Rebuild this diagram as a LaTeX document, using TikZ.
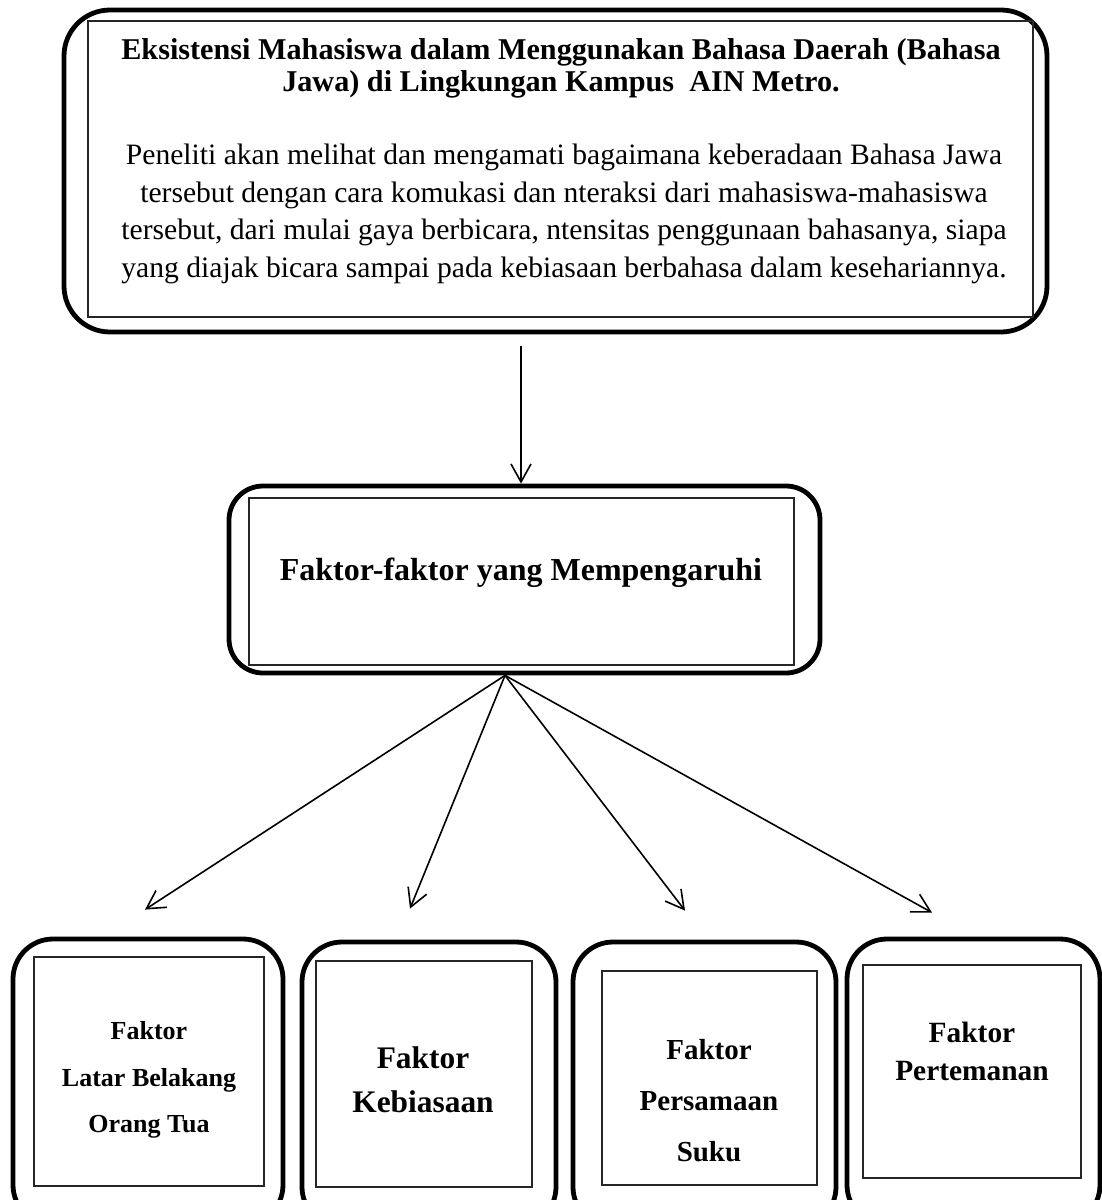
\documentclass[tikz,border=0pt]{standalone}
\usepackage{fontspec}
\setmainfont{Liberation Serif}
\usetikzlibrary{arrows.meta,calc}
\tikzset{
    luar/.style={draw, line width=2.4pt, rounded corners=20pt, inner sep=0pt},
    dalam/.style={draw=black!85, line width=0.7pt, inner sep=0pt},
    teks/.style={inner sep=0pt, align=center},
    panah/.style={-{Straight Barb[length=9pt,width=10pt]}, line width=0.8pt},
}
\begin{document}
\begin{tikzpicture}[x=0.5pt, y=-0.5pt]
        \useasboundingbox ( 0, 0 ) rectangle ( 1102, 1200 );

        % kotak atas
        \node[luar, rounded corners=23pt, minimum width=491.5pt, minimum height=161pt] (eksistensi) at ( 555.5, 171 ) {};
        \node[dalam, minimum width=472.5pt, minimum height=148pt] (eksistensidalam) at ( 560.5, 169 ) {};
        \node[teks, font=\bfseries\fontsize{15.1}{16}\selectfont] (judul) at ( 561, 68.5 )
            {Eksistensi Mahasiswa dalam Menggunakan Bahasa Daerah (Bahasa\\Jawa) di Lingkungan Kampus~ AIN Metro.};
        \node[teks, font=\fontsize{14.8}{18.9}\selectfont] (uraian) at ( 564, 214 )
            {Peneliti akan melihat dan mengamati bagaimana keberadaan Bahasa Jawa\\
             tersebut dengan cara komukasi dan nteraksi dari mahasiswa-mahasiswa\\
             tersebut, dari mulai gaya berbicara, ntensitas penggunaan bahasanya, siapa\\
             yang diajak bicara sampai pada kebiasaan berbahasa dalam kesehariannya.};

        % kotak tengah
        \node[luar, rounded corners=17pt, minimum width=295.5pt, minimum height=93.5pt] (pengaruh) at ( 524.5, 579.5 ) {};
        \node[dalam, minimum width=272.5pt, minimum height=83.5pt] (pengaruhdalam) at ( 521.5, 581.5 ) {};
        \node[teks, font=\bfseries\fontsize{16}{19}\selectfont] (pengaruhteks) at ( 521, 573 ) {Faktor-faktor yang Mempengaruhi};

        % atas-tengah
        \coordinate (pangkal) at ( 521, 346 );
        \draw[panah] (pangkal) -- (pangkal |- pengaruh.north);

        % faktor 1
        \node[luar, minimum width=135pt, minimum height=143pt] (faktor1) at ( 148, 1082 ) {};
        \node[dalam, minimum width=115pt, minimum height=114.5pt] (faktor1dalam) at ( 149, 1071.5 ) {};
        \node[teks, font=\bfseries\fontsize{13}{23.3}\selectfont] (faktor1teks) at ( 149, 1080 ) {Faktor\\Latar Belakang\\Orang Tua};
        % faktor 2
        \node[luar, minimum width=127pt, minimum height=142.5pt] (faktor2) at ( 429, 1084.5 ) {};
        \node[dalam, minimum width=108pt, minimum height=113pt] (faktor2dalam) at ( 424, 1074 ) {};
        \node[teks, font=\bfseries\fontsize{15.7}{22}\selectfont] (faktor2teks) at ( 423, 1080 ) {Faktor\\Kebiasaan};
        % faktor 3
        \node[luar, minimum width=131.5pt, minimum height=142.5pt] (faktor3) at ( 704.5, 1084.5 ) {};
        \node[dalam, minimum width=107.5pt, minimum height=107pt] (faktor3dalam) at ( 709.5, 1078 ) {};
        \node[teks, font=\bfseries\fontsize{14.5}{25.5}\selectfont] (faktor3teks) at ( 709, 1101 ) {Faktor\\Persamaan\\Suku};
        % faktor 4
        \node[luar, minimum width=126.5pt, minimum height=143pt] (faktor4) at ( 973.5, 1082 ) {};
        \node[dalam, minimum width=109pt, minimum height=106.5pt] (faktor4dalam) at ( 972, 1071.5 ) {};
        \node[teks, font=\bfseries\fontsize{14.7}{19}\selectfont] (faktor4teks) at ( 972, 1051 ) {Faktor\\Pertemanan};

        % tengah-[1,2,3,4]
        \coordinate (cabang) at ($(pengaruh.south)+(-19.5,0)$);
        \draw[panah] (cabang) -- ($(faktor1.north)+(-3,-27)$);
        \draw[panah] (cabang) -- ($(faktor2.north)+(-19,-31)$);
        \draw[panah] (cabang) -- ($(faktor3.north)+(-19.5,-29)$);
        \draw[panah] (cabang) -- ($(faktor4.north)+(-41.5,-24)$);
    \end{tikzpicture}
\end{document}
